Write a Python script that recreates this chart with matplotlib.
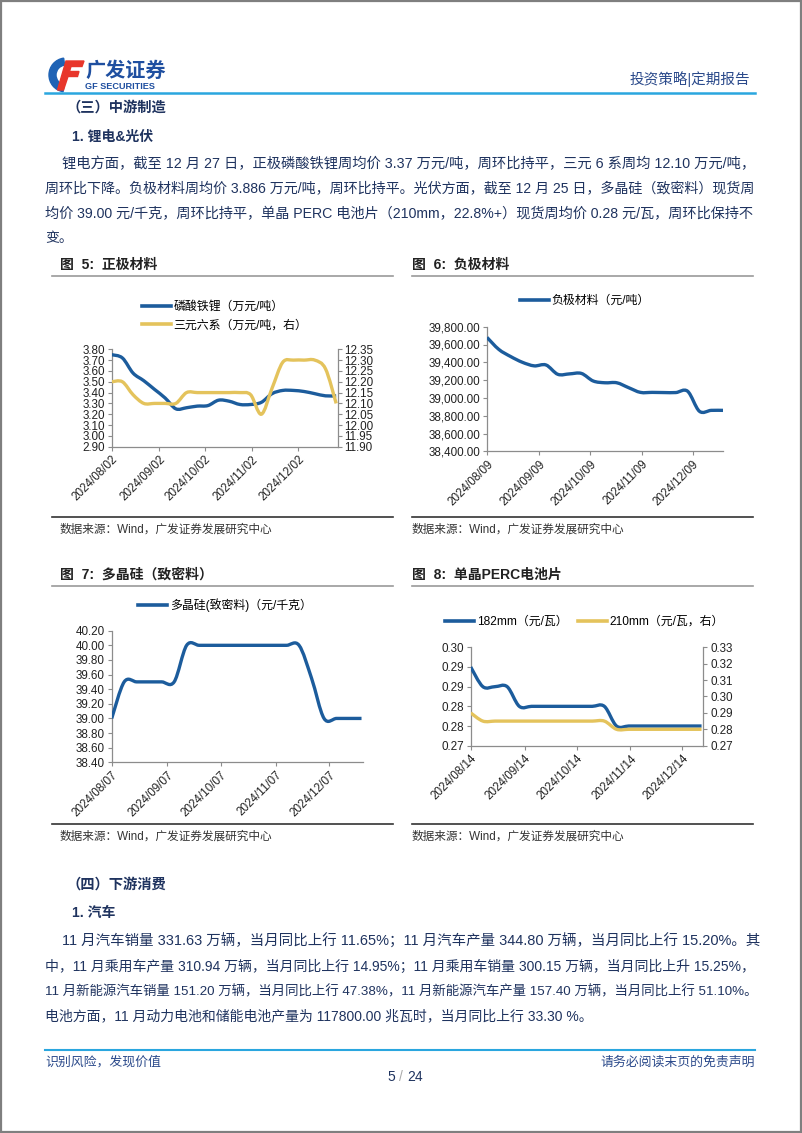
import matplotlib
matplotlib.use('Agg')
import matplotlib.pyplot as plt
import matplotlib.dates as mdates
from matplotlib.path import Path
from matplotlib.patches import PathPatch, Rectangle, Polygon, Wedge
from matplotlib.lines import Line2D
from matplotlib.ticker import FuncFormatter
import numpy as np
import pandas as pd

plt.rcParams['font.family'] = ['Liberation Sans', 'Noto Sans CJK SC', 'DejaVu Sans']

# ---- data ----
# fig 5: cathode materials (weekly, Fridays)
cathode_dates = ['2024-08-02', '2024-08-09', '2024-08-16', '2024-08-23', '2024-08-30',
                 '2024-09-06', '2024-09-13', '2024-09-20', '2024-09-27', '2024-10-04',
                 '2024-10-11', '2024-10-18', '2024-10-25', '2024-11-01', '2024-11-08',
                 '2024-11-15', '2024-11-22', '2024-11-29', '2024-12-06', '2024-12-13',
                 '2024-12-20', '2024-12-27']
lfp_price = [3.75, 3.72, 3.58, 3.51, 3.43, 3.35, 3.25, 3.26, 3.275, 3.28, 3.33,
             3.32, 3.29, 3.29, 3.31, 3.39, 3.42, 3.42, 3.41, 3.39, 3.37, 3.37]
ncm6_price = [12.20, 12.20, 12.14, 12.10, 12.10, 12.10, 12.10, 12.15, 12.15, 12.15, 12.15,
              12.15, 12.15, 12.14, 12.05, 12.17, 12.29, 12.30, 12.30, 12.30, 12.26, 12.10]
cathode_xticks = ['2024-08-02', '2024-09-02', '2024-10-02', '2024-11-02', '2024-12-02']

# fig 6: anode materials (weekly, Fridays)
anode_dates = ['2024-08-09', '2024-08-16', '2024-08-23', '2024-08-30', '2024-09-06',
               '2024-09-13', '2024-09-20', '2024-09-27', '2024-10-04', '2024-10-11',
               '2024-10-18', '2024-10-25', '2024-11-01', '2024-11-08', '2024-11-15',
               '2024-11-22', '2024-11-29', '2024-12-06', '2024-12-13', '2024-12-20',
               '2024-12-27']
anode_price = [39680, 39545, 39465, 39400, 39360, 39370, 39265, 39270, 39275, 39190,
               39170, 39170, 39115, 39062, 39062, 39060, 39060, 39075, 38850, 38860, 38860]
anode_xticks = ['2024-08-09', '2024-09-09', '2024-10-09', '2024-11-09', '2024-12-09']

# fig 7: polysilicon, dense (weekly, Wednesdays)
poly_dates = ['2024-08-07', '2024-08-14', '2024-08-21', '2024-08-28', '2024-09-04',
              '2024-09-11', '2024-09-18', '2024-09-25', '2024-10-02', '2024-10-09',
              '2024-10-16', '2024-10-23', '2024-10-30', '2024-11-06', '2024-11-13',
              '2024-11-20', '2024-11-27', '2024-12-04', '2024-12-11', '2024-12-18',
              '2024-12-25']
poly_price = [39.00, 39.50, 39.50, 39.50, 39.50, 39.50, 40.00, 40.00, 40.00, 40.00, 40.00,
              40.00, 40.00, 40.00, 40.00, 40.00, 39.55, 39.00, 39.00, 39.00, 39.00]
poly_xticks = ['2024-08-07', '2024-09-07', '2024-10-07', '2024-11-07', '2024-12-07']

# fig 8: mono PERC cells (weekly, Wednesdays)
perc_dates = ['2024-08-14', '2024-08-21', '2024-08-28', '2024-09-04', '2024-09-11',
              '2024-09-18', '2024-09-25', '2024-10-02', '2024-10-09', '2024-10-16',
              '2024-10-23', '2024-10-30', '2024-11-06', '2024-11-13', '2024-11-20',
              '2024-11-27', '2024-12-04', '2024-12-11', '2024-12-18', '2024-12-25']
perc_182 = [0.294, 0.288, 0.288, 0.288, 0.282, 0.282, 0.282, 0.282, 0.282, 0.282,
            0.282, 0.282, 0.276, 0.276, 0.276, 0.276, 0.276, 0.276, 0.276, 0.276]
perc_210 = [0.290, 0.285, 0.285, 0.285, 0.285, 0.285, 0.285, 0.285, 0.285, 0.285,
            0.285, 0.285, 0.280, 0.280, 0.280, 0.280, 0.280, 0.280, 0.280, 0.280]
perc_xticks = ['2024-08-14', '2024-09-14', '2024-10-14', '2024-11-14', '2024-12-14']

# ---- page text ----
sec3_lines = [
    '锂电方面，截至 12 月 27 日，正极磷酸铁锂周均价 3.37 万元/吨，周环比持平，三元 6 系周均 12.10 万元/吨，',
    '周环比下降。负极材料周均价 3.886 万元/吨，周环比持平。光伏方面，截至 12 月 25 日，多晶硅（致密料）现货周',
    '均价 39.00 元/千克，周环比持平，单晶 PERC 电池片（210mm，22.8%+）现货周均价 0.28 元/瓦，周环比保持不',
    '变。',
]
sec4_lines = [
    '11 月汽车销量 331.63 万辆，当月同比上行 11.65%；11 月汽车产量 344.80 万辆，当月同比上行 15.20%。其',
    '中，11 月乘用车产量 310.94 万辆，当月同比上行 14.95%；11 月乘用车销量 300.15 万辆，当月同比上升 15.25%，',
    '11 月新能源汽车销量 151.20 万辆，当月同比上行 47.38%，11 月新能源汽车产量 157.40 万辆，当月同比上行 51.10%。',
    '电池方面，11 月动力电池和储能电池产量为 117800.00 兆瓦时，当月同比上行 33.30 %。',
]
source_text = '数据来源：Wind，广发证券发展研究中心'

W, H = 802, 1133
NAVY = '#1f335f'
HEAD_BLUE = '#2b4a8b'
LINE_BLUE = '#2aa6df'
BLUE = '#1c5c9c'
GOLD = '#e4c35c'
AXIS_GRAY = '#8c8c8c'

fig = plt.figure(figsize=(W / 100, H / 100), dpi=100)
renderer = fig.canvas.get_renderer()

# full page overlay in pixel coordinates (y down)
bg = fig.add_axes([0, 0, 1, 1])
bg.set_xlim(0, W)
bg.set_ylim(H, 0)
bg.axis('off')


def box(l, t, r, b):
    return [l / W, 1 - b / H, (r - l) / W, (b - t) / H]


def to_num(dates):
    return mdates.date2num(pd.to_datetime(dates))


def smooth_line(ax, dates, values, color, lw=2.4):
    # excel-style smoothed line: bezier segments through the weekly points
    pts = np.column_stack([to_num(dates), np.asarray(values, float)])
    ext = np.vstack([pts[0], pts, pts[-1]])
    verts, codes = [pts[0]], [Path.MOVETO]
    for i in range(len(pts) - 1):
        p0, p1, p2, p3 = ext[i], ext[i + 1], ext[i + 2], ext[i + 3]
        verts += [p1 + (p2 - p0) / 6, p2 - (p3 - p1) / 6, p2]
        codes += [Path.CURVE4] * 3
    ax.add_patch(PathPatch(Path(verts, codes), fill=False, edgecolor=color, lw=lw,
                           joinstyle='round', capstyle='butt', zorder=3))


def setup_axes(ax, xlim, xticks, ylim, yticks, fmt):
    ax.set_xlim(to_num(xlim))
    ax.set_xticks(to_num(xticks))
    ax.xaxis.set_major_formatter(mdates.DateFormatter('%Y/%m/%d'))
    ax.set_ylim(ylim)
    ax.set_yticks(yticks)
    ax.yaxis.set_major_formatter(FuncFormatter(fmt))
    for s in ['top', 'right']:
        ax.spines[s].set_visible(False)
    for s in ['left', 'bottom']:
        ax.spines[s].set_color(AXIS_GRAY)
        ax.spines[s].set_linewidth(0.9)
    ax.tick_params(axis='both', direction='out', length=3, width=0.8, color=AXIS_GRAY,
                   labelcolor='#222222', labelsize=8.4, pad=2)
    plt.setp(ax.get_xticklabels(), rotation=45, ha='right', rotation_mode='anchor')
    ax.patch.set_alpha(0)


def add_right_axis(ax, ylim, yticks, fmt):
    ax2 = ax.twinx()
    ax2.set_ylim(ylim)
    ax2.set_yticks(yticks)
    ax2.yaxis.set_major_formatter(FuncFormatter(fmt))
    for s in ['top', 'left', 'bottom']:
        ax2.spines[s].set_visible(False)
    ax2.spines['right'].set_color(AXIS_GRAY)
    ax2.spines['right'].set_linewidth(0.9)
    ax2.tick_params(axis='y', direction='out', length=3, width=0.8, color=AXIS_GRAY,
                    labelcolor='#222222', labelsize=8.4, pad=2)
    return ax2


def legend(handles, labels, x, y, ncol=1, spacing=0.55, colsp=1.0):
    fig.legend(handles, labels, loc='center left', bbox_to_anchor=(x, y),
               bbox_transform=bg.transData, frameon=False, borderpad=0, borderaxespad=0,
               handlelength=2.4, handletextpad=0.25, labelspacing=spacing, ncol=ncol,
               columnspacing=colsp, prop={'size': 8.6})


def fig_title(x, y, text, x0, x1, src_y):
    bg.text(x, y, text, fontsize=10, fontweight='bold', color='#222222', va='center')
    bg.plot([x0, x1], [y + 11, y + 11], color='#9a9a9a', lw=1.2)
    bg.plot([x0, x1], [src_y - 13, src_y - 13], color='#333333', lw=1.2)
    bg.text(x, src_y, source_text, fontsize=8.4, color='#333333', va='center')


def handle(color):
    return Line2D([], [], color=color, lw=2.6)


def body_line(x, y, line, justify, right=757, fs=10):
    # one text per line; size nudged so justified lines end at the right margin
    t = bg.text(x, y, line, fontsize=fs, color=NAVY, va='center')
    if justify:
        w = t.get_window_extent(renderer).width
        t.set_fontsize(fs * min(max((right - x) / w, 0.95), 1.05))
    return t


# ---- page frame, header, footer ----
bg.add_patch(Rectangle((1, 1), W - 2, H - 2, fill=False, edgecolor='#7f7f7f', lw=1.6))
bg.add_patch(Wedge((66, 75), 17, 100, 262, width=7, color='#1f63b5'))
bg.add_patch(Polygon([(66, 61), (84, 61), (82, 66.5), (71, 66.5), (69.5, 71.5), (79, 71.5),
                      (77.5, 76.5), (68, 76.5), (63.5, 90), (57.5, 90)], color='#e8362b'))
bg.text(85, 71, '广发证券', fontsize=14.5, fontweight='bold', color='#1f4fa0', va='center')
bg.text(85, 86.5, 'GF SECURITIES', fontsize=6.6, fontweight='bold', color='#1f4fa0', va='center')
bg.text(750, 79, '投资策略|定期报告', fontsize=10.5, color=HEAD_BLUE, va='center', ha='right')
bg.plot([45, 755], [93, 93], color=LINE_BLUE, lw=1.8)

bg.plot([45, 755], [1050, 1050], color=LINE_BLUE, lw=1.5)
bg.text(45, 1062, '识别风险，发现价值', fontsize=9.3, color=HEAD_BLUE, va='center')
bg.text(755, 1062, '请务必阅读末页的免责声明', fontsize=9.3, color=HEAD_BLUE, va='center', ha='right')
bg.text(395, 1077, '5', fontsize=10, color=NAVY, va='center', ha='right')
bg.text(401, 1077, '/', fontsize=10, color='#aaaaaa', va='center', ha='center')
bg.text(407, 1077, '24', fontsize=10, color=NAVY, va='center', ha='left')

# ---- body text ----
bg.text(66, 108, '（三）中游制造', fontsize=10.3, fontweight='bold', color=NAVY, va='center')
bg.text(72, 137, '1. 锂电&光伏', fontsize=10, fontweight='bold', color=NAVY, va='center')
for i, (line, y) in enumerate(zip(sec3_lines, [164, 189, 214, 238])):
    body_line(62 if i == 0 else 45, y, line, i < len(sec3_lines) - 1)

bg.text(66, 885, '（四）下游消费', fontsize=10.3, fontweight='bold', color=NAVY, va='center')
bg.text(72, 913, '1. 汽车', fontsize=10, fontweight='bold', color=NAVY, va='center')
for i, (line, y) in enumerate(zip(sec4_lines, [941, 967, 992, 1016])):
    body_line(62 if i == 0 else 45, y, line, i < len(sec4_lines) - 1)

# ---- figure 5 ----
fig_title(60, 265, '图  5:  正极材料', 52, 393, 530)
ax5 = fig.add_axes(box(111.7, 349.3, 337.7, 446.7))
setup_axes(ax5, ['2024-08-02', '2024-12-28'], cathode_xticks, (2.90, 3.80),
           np.arange(2.90, 3.81, 0.10), lambda v, p: f'{v:.2f}')
ax5b = add_right_axis(ax5, (11.90, 12.35), np.arange(11.90, 12.351, 0.05), lambda v, p: f'{v:.2f}')
smooth_line(ax5, cathode_dates, lfp_price, BLUE)
smooth_line(ax5b, cathode_dates, ncm6_price, GOLD)
legend([handle(BLUE), handle(GOLD)], ['磷酸铁锂（万元/吨）', '三元六系（万元/吨，右）'], 142, 316)

# ---- figure 6 ----
fig_title(412, 265, '图  6:  负极材料', 412, 753, 530)
ax6 = fig.add_axes(box(487, 326.7, 723, 451.3))
setup_axes(ax6, ['2024-08-09', '2024-12-27'], anode_xticks, (38400, 39800),
           np.arange(38400, 39801, 200), lambda v, p: f'{v:,.2f}')
smooth_line(ax6, anode_dates, anode_price, BLUE)
legend([handle(BLUE)], ['负极材料（元/吨）'], 520, 301)

# ---- figure 7 ----
fig_title(60, 575, '图  7:  多晶硅（致密料）', 52, 393, 837)
ax7 = fig.add_axes(box(111.7, 630.7, 363.3, 762.3))
setup_axes(ax7, ['2024-08-07', '2024-12-26'], poly_xticks, (38.40, 40.20),
           np.arange(38.40, 40.21, 0.20), lambda v, p: f'{v:.2f}')
smooth_line(ax7, poly_dates, poly_price, BLUE)
legend([handle(BLUE)], ['多晶硅(致密料)（元/千克）'], 138, 605)

# ---- figure 8 ----
fig_title(412, 575, '图  8:  单晶PERC电池片', 412, 753, 837)
ax8 = fig.add_axes(box(470.7, 647.3, 703.3, 745.7))
setup_axes(ax8, ['2024-08-14', '2024-12-26'], perc_xticks, (0.27, 0.30),
           np.arange(0.27, 0.3001, 0.006), lambda v, p: f'{v:.2f}')
ax8b = add_right_axis(ax8, (0.27, 0.33), np.arange(0.27, 0.3301, 0.01), lambda v, p: f'{v:.2f}')
smooth_line(ax8, perc_dates, perc_182, BLUE)
smooth_line(ax8b, perc_dates, perc_210, GOLD)
legend([handle(BLUE), handle(GOLD)], ['182mm（元/瓦）', '210mm（元/瓦，右）'], 445, 622,
       ncol=2, colsp=0.9)

fig.savefig('out.png', dpi=100)
